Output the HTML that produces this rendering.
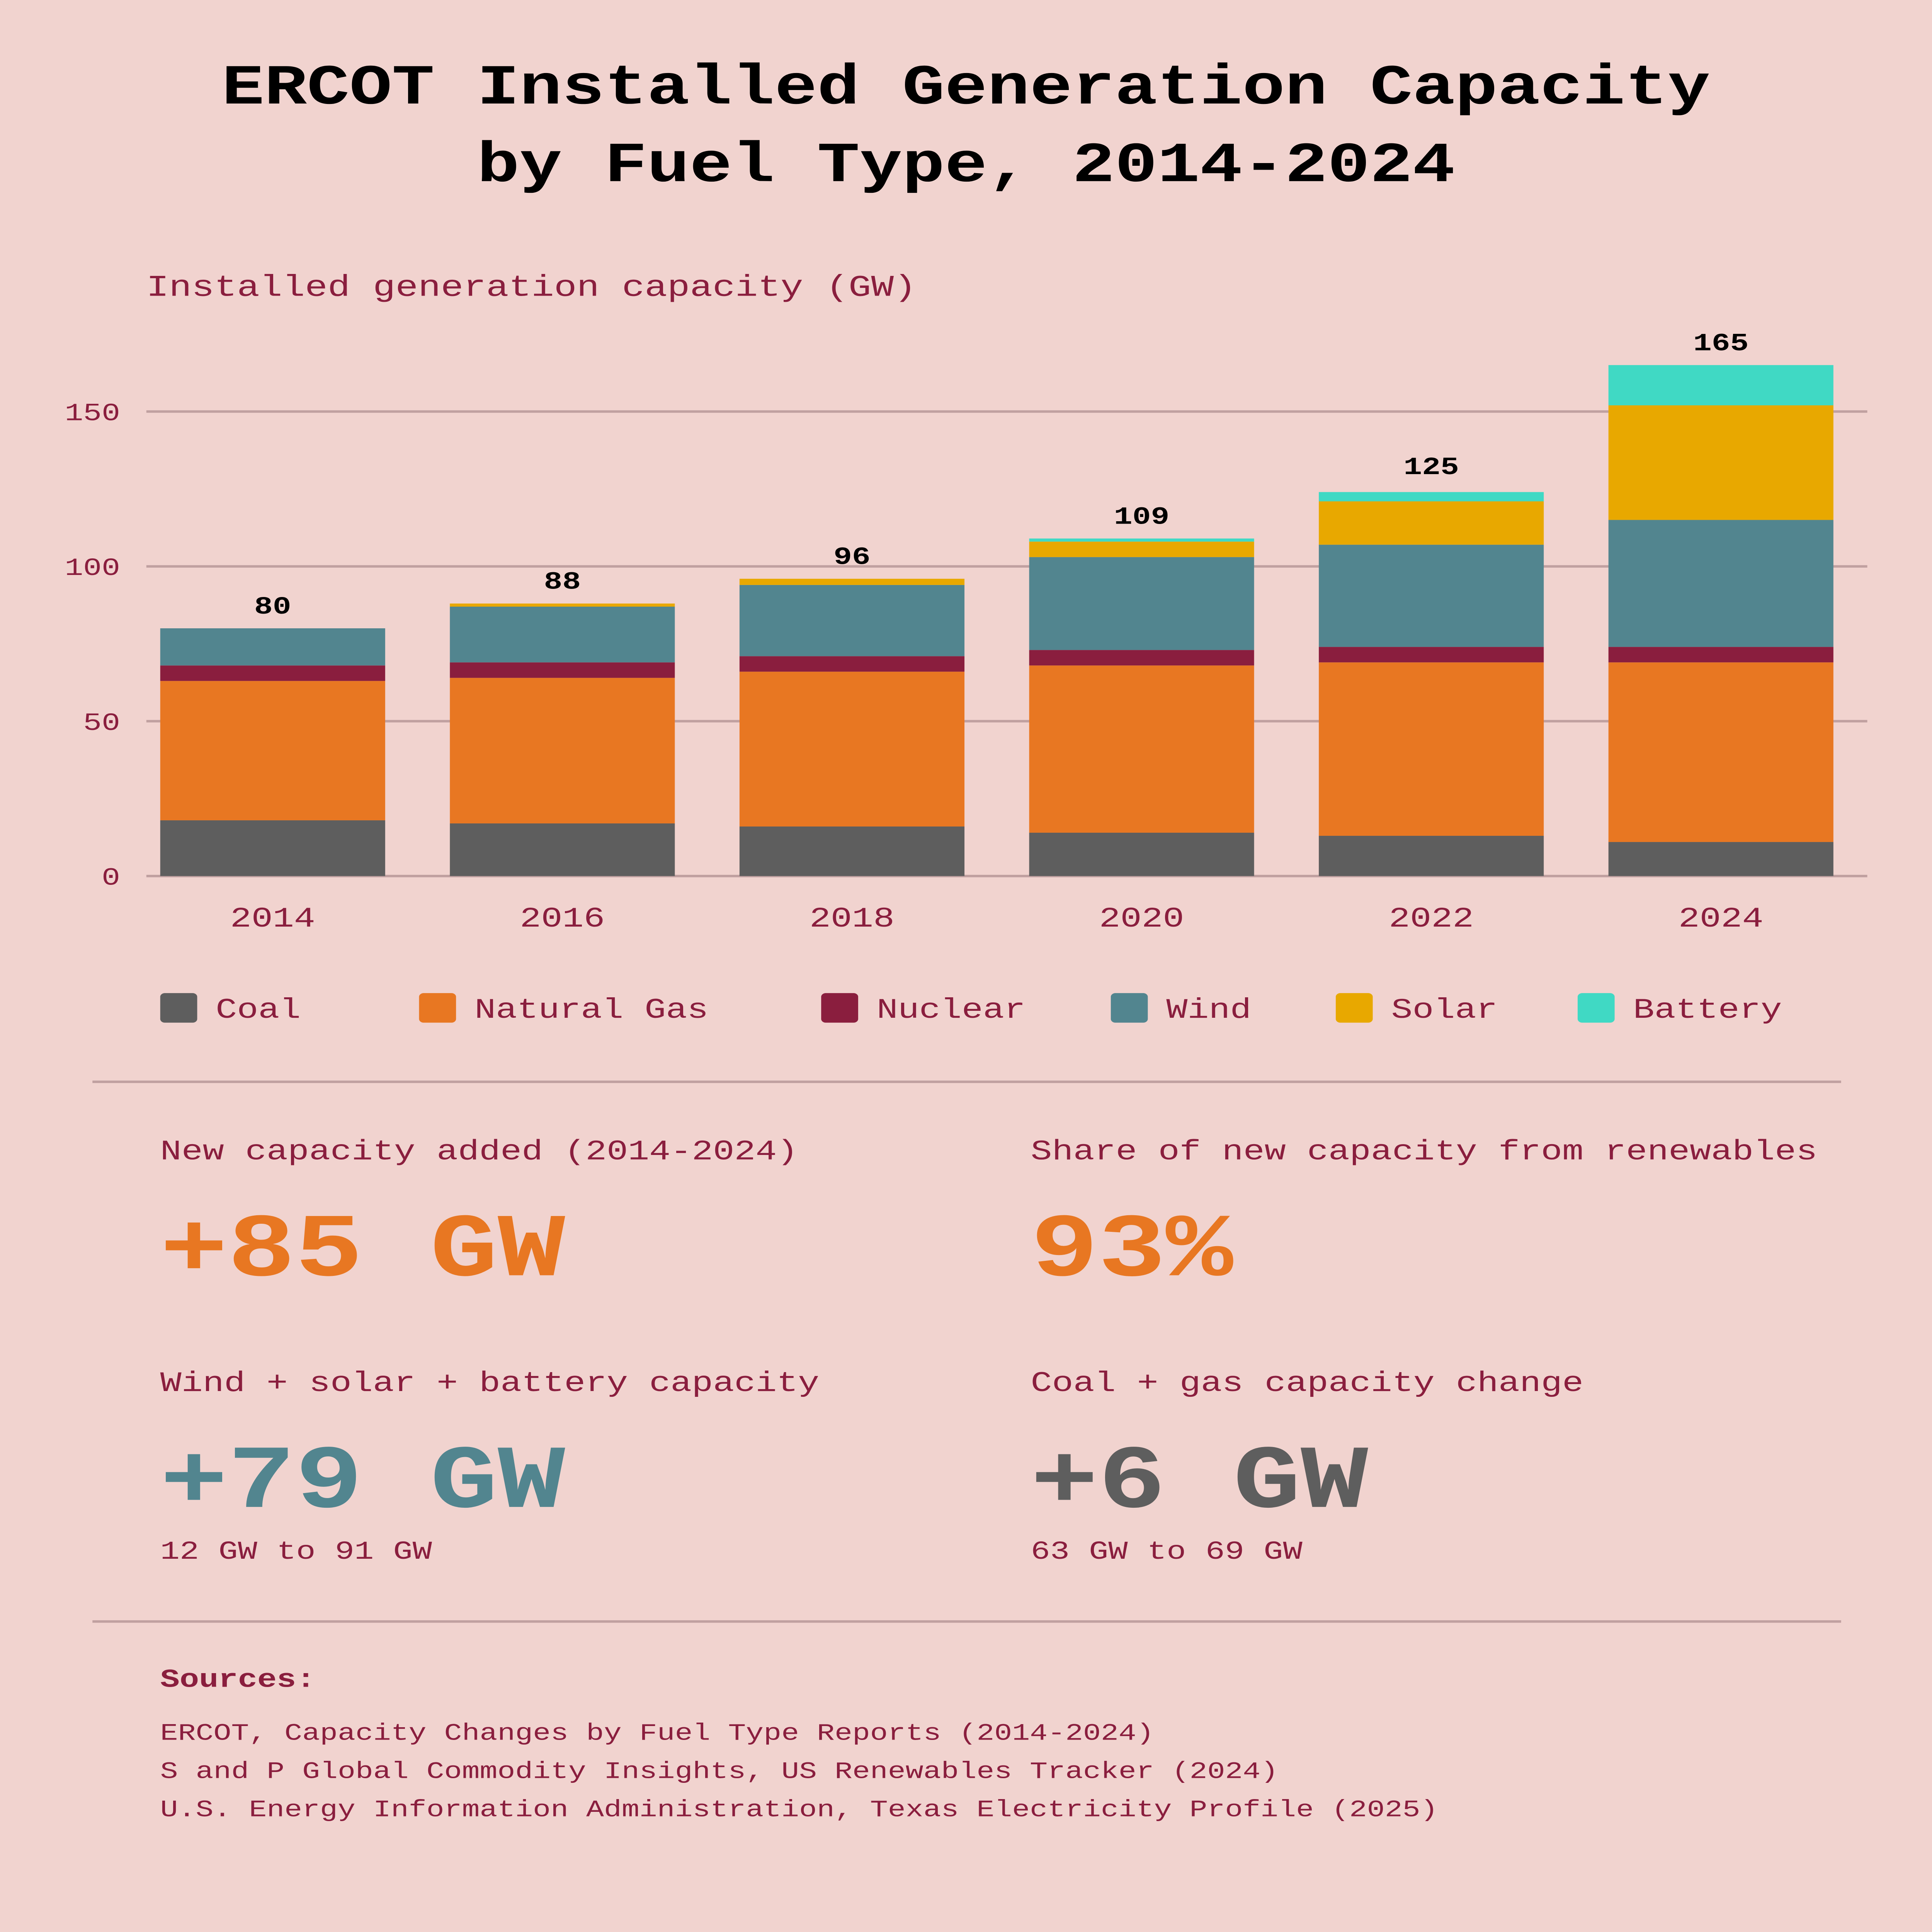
<!DOCTYPE html>
<html><head><meta charset="utf-8">
<style>
html,body{margin:0;padding:0;background:#f1d3cf;width:100%;height:100%;overflow:hidden;}
svg{display:block;font-family:"Liberation Mono",monospace;width:100vw;height:100vh;}
</style></head>
<body>
<svg id="chart" viewBox="0 0 1254 1568" preserveAspectRatio="none" xmlns="http://www.w3.org/2000/svg">
<rect width="1254" height="1568" fill="#f1d3cf"/>
<g font-weight="bold" font-size="46" fill="#000" text-anchor="middle">
<text x="627" y="84">ERCOT Installed Generation Capacity</text>
<text x="627" y="147">by Fuel Type, 2014-2024</text>
</g>
<text x="95" y="240" font-size="24.5" fill="#8a1e3e">Installed generation capacity (GW)</text>
<g id="grid"></g>
<g id="bars"></g>
<g id="legend"></g>
<line x1="60" y1="878" x2="1195" y2="878" stroke="#c0a0a0" stroke-width="2"/>
<g>
<text x="104" y="941" font-size="23" fill="#8a1e3e">New capacity added (2014-2024)</text>
<text x="104" y="1035" font-size="73" font-weight="bold" fill="#e87722">+85 GW</text>
</g>
<g>
<text x="669" y="941" font-size="23" fill="#8a1e3e">Share of new capacity from renewables</text>
<text x="669" y="1035" font-size="73" font-weight="bold" fill="#e87722">93%</text>
</g>
<g>
<text x="104" y="1129" font-size="23" fill="#8a1e3e">Wind + solar + battery capacity</text>
<text x="104" y="1223" font-size="73" font-weight="bold" fill="#52858f">+79 GW</text>
<text x="104" y="1265" font-size="21" fill="#8a1e3e">12 GW to 91 GW</text>
</g>
<g>
<text x="669" y="1129" font-size="23" fill="#8a1e3e">Coal + gas capacity change</text>
<text x="669" y="1223" font-size="73" font-weight="bold" fill="#5e5e5e">+6 GW</text>
<text x="669" y="1265" font-size="21" fill="#8a1e3e">63 GW to 69 GW</text>
</g>
<line x1="60" y1="1316" x2="1195" y2="1316" stroke="#c0a0a0" stroke-width="2"/>
<g fill="#8a1e3e">
<text x="104" y="1369" font-size="21" font-weight="bold">Sources:</text>
<text x="104" y="1412" font-size="19.2">ERCOT, Capacity Changes by Fuel Type Reports (2014-2024)</text>
<text x="104" y="1443" font-size="19.2">S and P Global Commodity Insights, US Renewables Tracker (2024)</text>
<text x="104" y="1474" font-size="19.2">U.S. Energy Information Administration, Texas Electricity Profile (2025)</text>
</g>
</svg>
<script>
const years = ["2014","2016","2018","2020","2022","2024"];
const coal = [18,17,16,14,13,11];
const gas = [45,47,50,54,56,58];
const nuclear = [5,5,5,5,5,5];
const wind = [12,18,23,30,33,41];
const solar = [0,1,2,5,14,37];
const battery = [0,0,0,1,3,13];
const totals = [80,88,96,109,125,165];
const yTicks = [0,50,100,150];
const seriesNames = ["Coal","Natural Gas","Nuclear","Wind","Solar","Battery"];

const NS="http://www.w3.org/2000/svg";
const colors=["#5e5e5e","#e87722","#8a1e3e","#52858f","#e8a800","#40d9c4"];
const series=[coal,gas,nuclear,wind,solar,battery];
const y0=711, pxPer=377/150;
function yScale(v){return y0-v*pxPer;}
function xScale(i){return 177+i*188;}
const bw=146;
function mk(tag,attrs,parent){const e=document.createElementNS(NS,tag);for(const k in attrs)e.setAttribute(k,attrs[k]);parent.appendChild(e);return e;}

const grid=document.getElementById('grid');
yTicks.forEach(t=>{
  const l=mk('line',{x1:95,x2:1212,y1:yScale(t),y2:yScale(t),stroke:'#c0a0a0','stroke-width':2},grid);
  
  
  const tx=mk('text',{x:78,y:yScale(t)+7,'text-anchor':'end','font-size':20,fill:'#8a1e3e'},grid);
  tx.textContent=t;
  
  
});

const bars=document.getElementById('bars');
years.forEach((yr,i)=>{
  let acc=0;
  series.forEach((s,k)=>{
    const v=s[i];
    if(v>0){
      const r=mk('rect',{x:xScale(i)-bw/2,y:yScale(acc+v),width:bw,height:v*pxPer,fill:colors[k]},bars);
      
      
    }
    acc+=v;
  });
  const lab=mk('text',{x:xScale(i),y:yScale(totals[i])-12,'text-anchor':'middle','font-size':20,'font-weight':'bold',fill:'#000'},bars);
  lab.textContent=totals[i];
  
  
  const xl=mk('text',{x:xScale(i),y:752,'text-anchor':'middle','font-size':23,fill:'#8a1e3e'},bars);
  xl.textContent=yr;
  
  
});

const legend=document.getElementById('legend');
const lx=[104,272,533,721,867,1024];
seriesNames.forEach((n,k)=>{
  const g=mk('g',{},legend);
  
  
  mk('rect',{x:lx[k],y:806,width:24,height:24,rx:3,fill:colors[k]},g);
  const t=mk('text',{x:lx[k]+36,y:826,'font-size':23,fill:'#8a1e3e'},g);
  t.textContent=n;
});
</script>
</body></html>
